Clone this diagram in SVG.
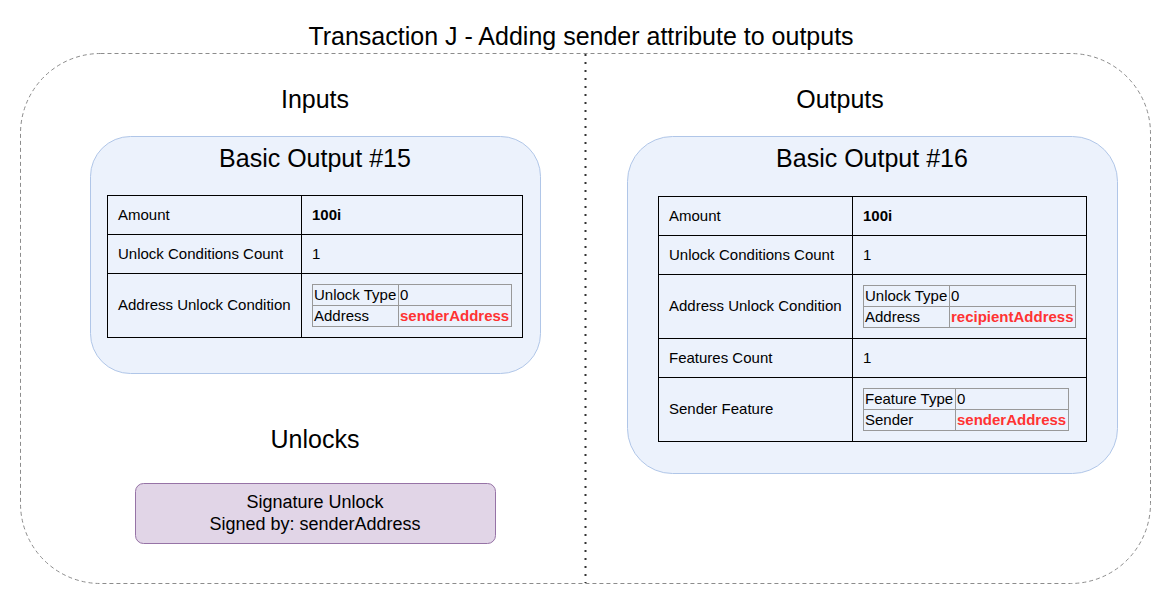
<svg xmlns="http://www.w3.org/2000/svg" width="1171" height="605" viewBox="0 0 1171 605">
<style>
text{font-family:"Liberation Sans",Arial,sans-serif;fill:#000}
.h{font-size:25px;text-anchor:middle}
.t{font-size:15px;dominant-baseline:central}
.s{font-size:15px;dominant-baseline:central}
.r{fill:#ff3333;font-weight:bold}
.b{font-weight:bold}
.cell{fill:none;stroke:#000;stroke-width:1}
.icell{fill:none;stroke:#999;stroke-width:1}
.blue{fill:#ecf2fc;stroke:#b0c6e8;stroke-width:1}
</style>
<rect width="1171" height="605" fill="#fff"/>
<g id="frame">
<rect x="20.5" y="53.5" width="1130" height="530" rx="80" ry="80" fill="none" stroke="#8c8c8c" stroke-dasharray="4 3"/>
</g>
<g id="connectors">
<line x1="585.5" y1="54" x2="585.5" y2="583" stroke="#333" stroke-width="2" stroke-dasharray="2 6"/>
</g>
<text class="h" x="581" y="45">Transaction J - Adding sender attribute to outputs</text>
<text class="h" x="315" y="108">Inputs</text>
<text class="h" x="840" y="108">Outputs</text>
<text class="h" x="315" y="448">Unlocks</text>
<g id="output15">
<rect class="blue" x="90.5" y="136.5" width="450" height="237" rx="40" ry="40"/>
<text class="h" x="315" y="167">Basic Output #15</text>
<rect class="cell" x="107.5" y="195.5" width="415" height="142"/>
<line class="cell" x1="301.5" y1="195" x2="301.5" y2="338"/>
<line class="cell" x1="107" y1="234.5" x2="523" y2="234.5"/>
<line class="cell" x1="107" y1="273.5" x2="523" y2="273.5"/>
<text class="t" x="118" y="214">Amount</text>
<text class="t b" x="312" y="214">100i</text>
<text class="t" x="118" y="253">Unlock Conditions Count</text>
<text class="t" x="312" y="253">1</text>
<text class="t" x="118" y="304">Address Unlock Condition</text>
<rect class="icell" x="312.5" y="284.5" width="199" height="42"/>
<line class="icell" x1="398.5" y1="284" x2="398.5" y2="327"/>
<line class="icell" x1="312" y1="305.5" x2="512" y2="305.5"/>
<text class="s" x="314" y="294.5">Unlock Type</text>
<text class="s" x="400" y="294.5">0</text>
<text class="s" x="314" y="315.5">Address</text>
<text class="s r" x="400" y="315.5">senderAddress</text>
</g>
<g id="output16">
<rect class="blue" x="627.5" y="136.5" width="490" height="337" rx="45" ry="45"/>
<text class="h" x="872" y="167">Basic Output #16</text>
<rect class="cell" x="658.5" y="196.5" width="428" height="245"/>
<line class="cell" x1="852.5" y1="196" x2="852.5" y2="442"/>
<line class="cell" x1="658" y1="235.5" x2="1087" y2="235.5"/>
<line class="cell" x1="658" y1="274.5" x2="1087" y2="274.5"/>
<line class="cell" x1="658" y1="338.5" x2="1087" y2="338.5"/>
<line class="cell" x1="658" y1="377.5" x2="1087" y2="377.5"/>
<text class="t" x="669" y="215">Amount</text>
<text class="t b" x="863" y="215">100i</text>
<text class="t" x="669" y="254">Unlock Conditions Count</text>
<text class="t" x="863" y="254">1</text>
<text class="t" x="669" y="305">Address Unlock Condition</text>
<rect class="icell" x="863.5" y="285.5" width="212" height="42"/>
<line class="icell" x1="949.5" y1="285" x2="949.5" y2="328"/>
<line class="icell" x1="863" y1="306.5" x2="1076" y2="306.5"/>
<text class="s" x="865" y="295.5">Unlock Type</text>
<text class="s" x="951" y="295.5">0</text>
<text class="s" x="865" y="316.5">Address</text>
<text class="s r" x="951" y="316.5">recipientAddress</text>
<text class="t" x="669" y="357">Features Count</text>
<text class="t" x="863" y="357">1</text>
<text class="t" x="669" y="408">Sender Feature</text>
<rect class="icell" x="863.5" y="388.5" width="205" height="42"/>
<line class="icell" x1="955.5" y1="388" x2="955.5" y2="431"/>
<line class="icell" x1="863" y1="409.5" x2="1069" y2="409.5"/>
<text class="s" x="865" y="398.5">Feature Type</text>
<text class="s" x="957" y="398.5">0</text>
<text class="s" x="865" y="419.5">Sender</text>
<text class="s r" x="957" y="419.5">senderAddress</text>
</g>
<g id="signature">
<rect x="135.5" y="483.5" width="360" height="60" rx="8" ry="8" fill="#e1d5e7" stroke="#9673a6"/>
<text x="315" y="508" font-size="18" text-anchor="middle">Signature Unlock</text>
<text x="315" y="530" font-size="18" text-anchor="middle">Signed by: senderAddress</text>
</g>
</svg>
